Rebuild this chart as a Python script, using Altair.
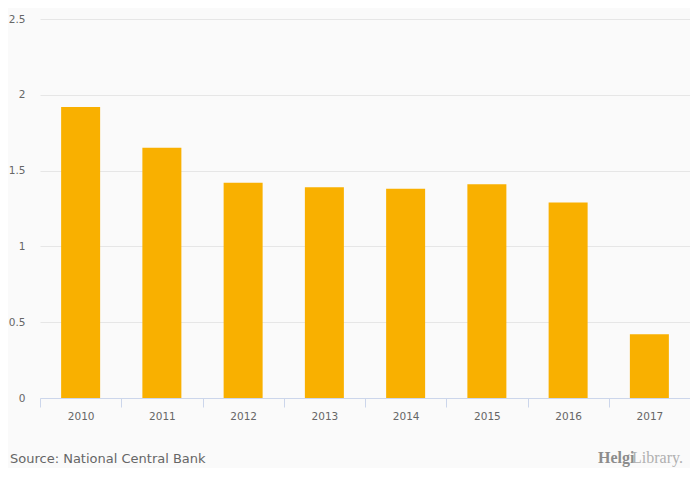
import altair as alt
import pandas as pd

years = ["2010", "2011", "2012", "2013", "2014", "2015", "2016", "2017"]
values = [1.92, 1.65, 1.42, 1.39, 1.38, 1.41, 1.29, 0.42]
y_ticks = [0, 0.5, 1, 1.5, 2, 2.5]
source_text = "Source: National Central Bank"

df = pd.DataFrame({"year": years, "value": values})

FONT = "DejaVu Sans"

bars = alt.Chart(df).mark_bar(color="#f9b000", width=39).encode(
    x=alt.X("year:N", sort=years, title=None,
            scale=alt.Scale(paddingInner=0, paddingOuter=0),
            axis=alt.Axis(labelAngle=0, tickBand="extent", tickSize=9,
                          tickColor="#ccd6eb", domainColor="#ccd6eb",
                          labelColor="#666666", labelFontSize=10.5, labelFont=FONT,
                          labelPadding=4)),
    y=alt.Y("value:Q", title=None,
            scale=alt.Scale(domain=[0, 2.5], nice=False, zero=True),
            axis=alt.Axis(values=y_ticks, labelExpr="datum.value", domain=False,
                          ticks=False, gridColor="#e6e6e6", labelColor="#666666",
                          labelFontSize=10.5, labelFont=FONT, labelPadding=15)),
)

src = alt.Chart(pd.DataFrame({"t": [source_text]})).mark_text(
    align="left", baseline="middle", font=FONT, fontSize=13, color="#666666"
).encode(x=alt.value(-30), y=alt.value(440), text="t:N")

logo1 = alt.Chart(pd.DataFrame({"t": ["Helgi"]})).mark_text(
    align="left", baseline="middle", font="Liberation Serif", fontSize=16, color="#8c8c8c", fontWeight="bold"
).encode(x=alt.value(558), y=alt.value(439), text="t:N")

logo2 = alt.Chart(pd.DataFrame({"t": ["Library."]})).mark_text(
    align="left", baseline="middle", font="Liberation Serif", fontSize=16, color="#b0b0b0"
).encode(x=alt.value(592), y=alt.value(439), text="t:N")

chart = alt.layer(bars, src, logo1, logo2).properties(
    width=650, height=379,
    autosize=alt.AutoSizeParams(type="none"),
    padding={"left": 32, "top": 11, "right": 0, "bottom": 70},
    background="#fafafa",
).configure_view(stroke=None)

chart.save("out.html", embed_options={"renderer": "svg", "actions": False})
